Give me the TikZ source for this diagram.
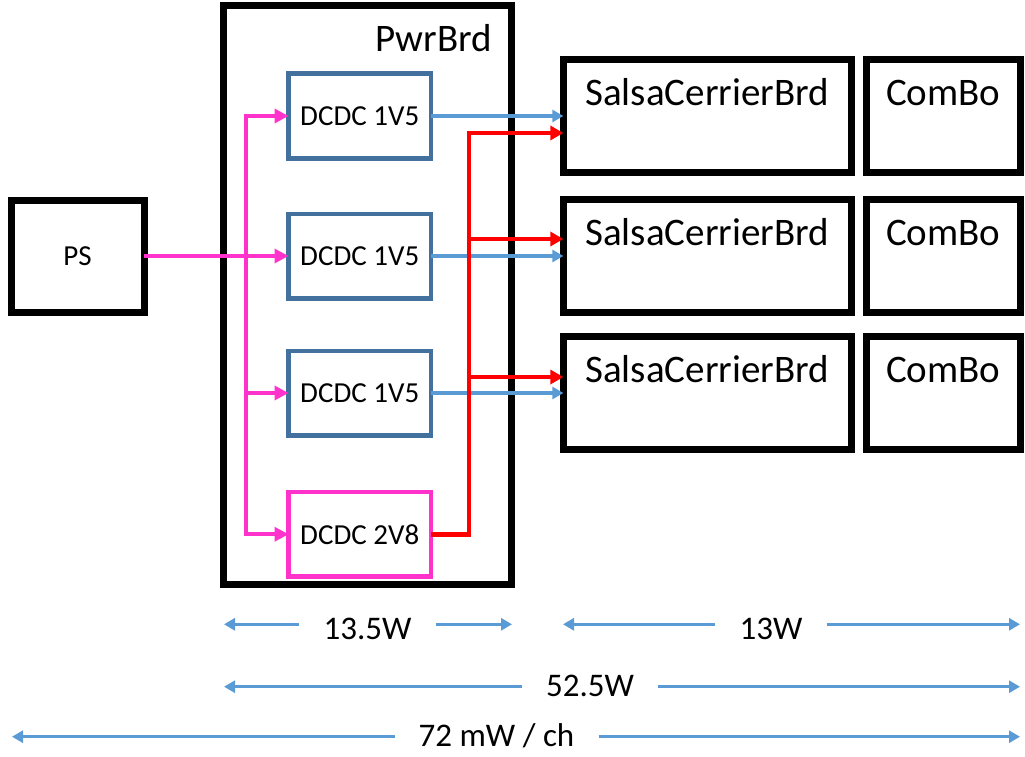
\documentclass[tikz,border=0pt]{standalone}
\usepackage{fontspec}
\setmainfont{Carlito}
\usetikzlibrary{arrows.meta}
\definecolor{pinkline}{HTML}{FF33CC}
\definecolor{blueline}{HTML}{5B9BD5}
\definecolor{dcdcblue}{HTML}{41719C}
\begin{document}
\begin{tikzpicture}[x=1pt,y=-1pt,
  board/.style={draw, line width=7pt, inner sep=0pt, outer sep=0pt},
  dcdc/.style={draw=dcdcblue, line width=4.5pt, inner sep=0pt, outer sep=0pt,
    minimum width=142.5pt, minimum height=84.5pt, font=\fontsize{29}{35}\selectfont},
  big/.style={inner sep=0pt, font=\fontsize{39}{47}\selectfont},
  dimtext/.style={anchor=base, inner xsep=24pt, inner ysep=0pt, font=\fontsize{33}{40}\selectfont},
  pinkarrow/.style={pinkline, line width=4pt, -{Triangle[length=14pt,width=14pt]}},
  bluearrow/.style={blueline, line width=3.5pt, -{Triangle[length=11pt,width=12pt]}},
  redarrow/.style={red, line width=4.5pt, -{Triangle[length=13pt,width=14pt]}},
  dimarrow/.style={blueline, line width=3pt, -{Triangle[length=11pt,width=12pt]}}]
\useasboundingbox (0,0) rectangle (1025,757);
\node[board, minimum width=133pt, minimum height=112pt, font=\fontsize{29}{35}\selectfont] (ps) at (77.5,256) {PS};
\node[board, minimum width=287.5pt, minimum height=578.5pt] (pwr) at (367.25,295.25) {};
\node[big, anchor=base east] (pwrt) at ([xshift=-19pt,yshift=-46pt]pwr.north east) {PwrBrd};
\node[dcdc] (d1) at (359.75,116) {DCDC 1V5};
\node[dcdc] (d2) at (359.75,256) {DCDC 1V5};
\node[dcdc] (d3) at (359.75,393) {DCDC 1V5};
\node[dcdc, draw=pinkline] (d4) at (359.75,534.25) {DCDC 2V8};
\node[board, minimum width=287.7pt, minimum height=112.5pt] (s1) at (707.2,116) {};
\node[board, minimum width=287.7pt, minimum height=112.5pt] (s2) at (707.2,256) {};
\node[board, minimum width=287.7pt, minimum height=112.5pt] (s3) at (707.2,393) {};
\node[board, minimum width=154.5pt, minimum height=112.5pt] (c1) at (943.25,116) {};
\node[board, minimum width=154.5pt, minimum height=112.5pt] (c2) at (943.25,256) {};
\node[board, minimum width=154.5pt, minimum height=112.5pt] (c3) at (943.25,393) {};
\node[big, anchor=base] (s1t) at ([yshift=-46pt]s1.north) {SalsaCerrierBrd};
\node[big, anchor=base] (s2t) at ([yshift=-46pt]s2.north) {SalsaCerrierBrd};
\node[big, anchor=base] (s3t) at ([yshift=-46pt]s3.north) {SalsaCerrierBrd};
\node[big, anchor=base] (c1t) at ([yshift=-46pt]c1.north) {ComBo};
\node[big, anchor=base] (c2t) at ([yshift=-46pt]c2.north) {ComBo};
\node[big, anchor=base] (c3t) at ([yshift=-46pt]c3.north) {ComBo};
\coordinate (pbus) at (246,0);
\coordinate (rbus) at (469,0);
\coordinate (r1) at ([yshift=-17pt]s1.west);
\coordinate (r2) at ([yshift=17pt]s2.west);
\coordinate (r3) at ([yshift=16pt]s3.west);
\draw[pinkline, line width=4pt, line cap=rect] (pbus |- d1) -- (pbus |- d4);
\draw[pinkarrow] (ps) -- (d2);
\draw[pinkarrow] (pbus |- d1) -- (d1);
\draw[pinkarrow] (pbus |- d3) -- (d3);
\draw[pinkarrow] (pbus |- d4) -- (d4);
\draw[bluearrow] (d1) -- (s1);
\draw[bluearrow] (d2) -- (s2);
\draw[bluearrow] (d3) -- (s3);
\draw[redarrow] (d4) -- (rbus |- d4) -- (rbus |- r1) -- (r1);
\draw[redarrow] (rbus |- r2) -- (r2);
\draw[redarrow] (rbus |- r3) -- (r3);
\coordinate (w1l) at (224,624.3);
\coordinate (w1r) at (512,624.3);
\coordinate (w2l) at (563,624.3);
\coordinate (w2r) at (1020,624.3);
\coordinate (w3l) at (224,686.7);
\coordinate (w3r) at (1020,686.7);
\coordinate (w4l) at (12,736.7);
\coordinate (w4r) at (1020,736.7);
\node[dimtext] (w1) at (367.6,639.3) {13.5W};
\node[dimtext] (w2) at (771,639.3) {13W};
\node[dimtext] (w3) at (590,696) {52.5W};
\node[dimtext] (w4) at (496.5,746.7) {72 mW / ch};
\draw[dimarrow] (w1.west |- w1l) -- (w1l);
\draw[dimarrow] (w1.east |- w1r) -- (w1r);
\draw[dimarrow] (w2.west |- w2l) -- (w2l);
\draw[dimarrow] (w2.east |- w2r) -- (w2r);
\draw[dimarrow] (w3.west |- w3l) -- (w3l);
\draw[dimarrow] (w3.east |- w3r) -- (w3r);
\draw[dimarrow] (w4.west |- w4l) -- (w4l);
\draw[dimarrow] (w4.east |- w4r) -- (w4r);
\end{tikzpicture}
\end{document}
